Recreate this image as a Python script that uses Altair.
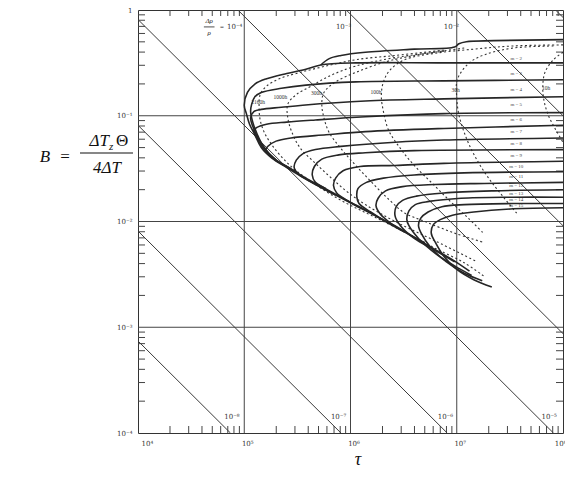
import math
import altair as alt
import pandas as pd

# ---- values (log10 of tau, log10 of B) ----
# diagonal lines of constant delta-rho/rho (exponent), end points
diag_exp = [-8, -7, -6, -5, -4, -3, -2, -1]
diag_lt0 = [4.0, 4.0, 4.0, 4.0, 4.94, 5.96, 7.0, 7.93]
diag_lb0 = [-3.13, -2.09, -1.09, -0.09, 0.0, 0.0, 0.0, 0.0]
diag_lt1 = [4.87, 5.91, 6.91, 7.91, 8.0, 8.0, 8.0, 8.0]
diag_lb1 = [-4.0, -4.0, -4.0, -4.0, -3.06, -2.04, -1.0, -0.07]

# solid curves m = 1 ... 15
m1_lt = [5.72, 5.80, 5.91, 6.14, 6.60, 6.98, 7.02, 7.09, 7.35, 8.0]
m1_lb = [-0.52, -0.46, -0.43, -0.40, -0.37, -0.35, -0.32, -0.30, -0.29, -0.28]
m2_lt = [7.12, 7.02, 6.84, 6.65, 6.47, 6.28, 6.07, 5.86, 5.67, 5.53, 5.40, 5.26, 5.16,
         5.10, 5.05, 5.02, 5.00, 5.03, 5.10, 5.21, 5.40, 5.58, 5.72, 6.05, 6.88, 8.0]
m2_lb = [-2.47, -2.40, -2.29, -2.18, -2.07, -1.97, -1.86, -1.75, -1.65, -1.57, -1.49, -1.40, -1.30,
         -1.18, -1.08, -0.98, -0.90, -0.78, -0.70, -0.65, -0.60, -0.56, -0.52, -0.50, -0.50, -0.50]
m3_lt = [5.49, 5.30, 5.18, 5.12, 5.08, 5.06, 5.07, 5.10, 5.16, 5.35, 5.58, 6.05, 6.88, 8.0]
m3_lb = [-1.53, -1.42, -1.29, -1.17, -1.06, -0.96, -0.89, -0.82, -0.78, -0.74, -0.71, -0.68, -0.67, -0.66]
m4_lt = [5.30, 5.21, 5.13, 5.08, 5.06, 5.09, 5.16, 5.35, 5.55, 6.14, 6.88, 8.0]
m4_lb = [-1.42, -1.33, -1.21, -1.10, -1.02, -0.96, -0.94, -0.92, -0.90, -0.86, -0.84, -0.82]
m5_lt = [5.44, 5.28, 5.18, 5.12, 5.09, 5.12, 5.21, 5.40, 5.67, 6.14, 6.88, 8.0]
m5_lb = [-1.50, -1.41, -1.31, -1.21, -1.14, -1.11, -1.08, -1.06, -1.04, -1.01, -0.98, -0.97]
m6_lt = [5.77, 5.58, 5.42, 5.30, 5.24, 5.20, 5.22, 5.30, 5.44, 5.77, 6.14, 6.88, 8.0]
m6_lb = [-1.69, -1.59, -1.49, -1.42, -1.37, -1.33, -1.29, -1.24, -1.21, -1.18, -1.15, -1.12, -1.09]
m7_lt = [5.86, 5.66, 5.52, 5.47, 5.49, 5.55, 5.67, 5.91, 6.42, 6.88, 8.0]
m7_lb = [-1.75, -1.64, -1.56, -1.49, -1.42, -1.36, -1.32, -1.29, -1.25, -1.23, -1.21]
m8_lt = [6.09, 5.91, 5.75, 5.67, 5.64, 5.66, 5.73, 5.89, 6.14, 6.60, 8.0]
m8_lb = [-1.87, -1.77, -1.68, -1.63, -1.56, -1.48, -1.41, -1.37, -1.35, -1.33, -1.32]
m9_lt = [6.33, 6.14, 5.97, 5.87, 5.84, 5.86, 5.93, 6.09, 6.42, 6.88, 8.0]
m9_lb = [-2.00, -1.89, -1.80, -1.73, -1.66, -1.59, -1.52, -1.48, -1.47, -1.45, -1.43]
m10_lt = [6.51, 6.33, 6.19, 6.08, 6.06, 6.07, 6.15, 6.31, 6.60, 7.07, 8.0]
m10_lb = [-2.10, -2.00, -1.91, -1.83, -1.77, -1.69, -1.63, -1.59, -1.56, -1.54, -1.53]
m11_lt = [6.70, 6.51, 6.37, 6.28, 6.24, 6.26, 6.33, 6.49, 6.79, 7.26, 8.0]
m11_lb = [-2.20, -2.10, -2.01, -1.93, -1.85, -1.78, -1.71, -1.67, -1.65, -1.64, -1.63]
m12_lt = [6.98, 6.79, 6.60, 6.47, 6.42, 6.43, 6.49, 6.62, 6.88, 7.35, 8.0]
m12_lb = [-2.38, -2.27, -2.16, -2.04, -1.95, -1.86, -1.80, -1.76, -1.73, -1.71, -1.70]
m13_lt = [7.14, 6.98, 6.81, 6.64, 6.55, 6.53, 6.55, 6.61, 6.74, 7.04, 7.53, 8.0]
m13_lb = [-2.51, -2.42, -2.31, -2.16, -2.04, -1.98, -1.90, -1.84, -1.81, -1.78, -1.77, -1.77]
m14_lt = [7.24, 7.07, 6.90, 6.75, 6.67, 6.64, 6.66, 6.73, 6.86, 7.07, 7.53, 8.0]
m14_lb = [-2.56, -2.49, -2.38, -2.24, -2.12, -2.04, -1.97, -1.91, -1.86, -1.84, -1.83, -1.83]
m15_lt = [7.33, 7.16, 7.01, 6.88, 6.80, 6.76, 6.78, 6.85, 6.96, 7.16, 7.53, 8.0]
m15_lb = [-2.62, -2.55, -2.46, -2.33, -2.20, -2.11, -2.03, -1.98, -1.94, -1.91, -1.88, -1.87]

# dotted time contours
c1_lt = [6.88, 6.42, 6.05, 5.77, 5.49, 5.33, 5.21, 5.15, 5.14, 5.15, 5.19, 5.27, 5.38, 5.49,
         5.67, 5.91, 6.19, 6.51, 6.79, 7.07, 7.26]
c1_lb = [-0.38, -0.43, -0.47, -0.53, -0.60, -0.65, -0.72, -0.80, -0.93, -1.04, -1.16, -1.29, -1.42, -1.52,
         -1.65, -1.80, -1.94, -2.10, -2.25, -2.39, -2.52]
c2_lt = [6.88, 6.42, 6.05, 5.81, 5.63, 5.49, 5.41, 5.41, 5.45, 5.53, 5.66, 5.81, 5.97, 6.14, 6.42, 6.79, 7.19]
c2_lb = [-0.39, -0.45, -0.53, -0.62, -0.72, -0.80, -0.89, -1.02, -1.16, -1.31, -1.44, -1.58, -1.72, -1.84, -2.00, -2.18, -2.38]
c3_lt = [7.07, 6.60, 6.33, 6.05, 5.86, 5.75, 5.73, 5.75, 5.80, 5.91, 6.05, 6.21, 6.37, 6.51, 6.70, 6.98, 7.26]
c3_lb = [-0.36, -0.43, -0.49, -0.59, -0.68, -0.78, -0.89, -1.02, -1.16, -1.31, -1.47, -1.64, -1.80, -1.92, -2.00, -2.11, -2.20]
c4_lt = [8.0, 7.53, 7.16, 6.79, 6.51, 6.37, 6.31, 6.29, 6.31, 6.36, 6.47, 6.60, 6.77, 6.94, 7.11, 7.26]
c4_lb = [-0.33, -0.34, -0.37, -0.41, -0.47, -0.57, -0.68, -0.81, -0.96, -1.14, -1.31, -1.47, -1.64, -1.81, -1.97, -2.12]
c5_lt = [7.91, 7.53, 7.27, 7.13, 7.04, 7.00, 7.00, 7.02, 7.09, 7.18, 7.30, 7.44, 7.58]
c5_lb = [-0.34, -0.36, -0.42, -0.49, -0.59, -0.68, -0.83, -0.99, -1.21, -1.40, -1.59, -1.77, -1.94]
c6_lt = [8.0, 7.91, 7.83, 7.81, 7.82, 7.86, 7.93, 8.0]
c6_lb = [-0.40, -0.47, -0.59, -0.72, -0.85, -0.99, -1.13, -1.25]

contour_names = ["2160h", "1000h", "300h", "100h", "30h", "10h"]
contour_lab_lt = [5.13, 5.34, 5.68, 6.24, 6.99, 7.84]
contour_lab_lb = [-0.87, -0.82, -0.785, -0.775, -0.757, -0.74]

m_lab = [f"m = {k}" for k in range(2, 16)]
m_lab_lt = [7.56] * 14
m_lab_lb = [-0.454, -0.596, -0.747, -0.889, -1.031, -1.144, -1.258, -1.371,
            -1.475, -1.570, -1.655, -1.730, -1.787, -1.844]

diag_lab = ["10⁻⁴", "10⁻³", "10⁻²", "10⁻⁸", "10⁻⁷", "10⁻⁶", "10⁻⁵"]
diag_lab_lt = [4.91, 5.935, 6.95, 4.884, 5.888, 6.893, 7.87]
diag_lab_lb = [-0.16, -0.16, -0.16, -3.85, -3.85, -3.85, -3.85]

x_decades = [5, 6, 7]
y_decades = [-1, -2, -3]

# ---- tables ----
m_lists = [(m1_lt, m1_lb), (m2_lt, m2_lb), (m3_lt, m3_lb), (m4_lt, m4_lb), (m5_lt, m5_lb),
           (m6_lt, m6_lb), (m7_lt, m7_lb), (m8_lt, m8_lb), (m9_lt, m9_lb), (m10_lt, m10_lb),
           (m11_lt, m11_lb), (m12_lt, m12_lb), (m13_lt, m13_lb), (m14_lt, m14_lb), (m15_lt, m15_lb)]
rows = []
for i, (a, b) in enumerate(m_lists):
    for j, (p, q) in enumerate(zip(a, b)):
        rows.append({"curve": f"m{i+1}", "o": j, "lt": p, "lb": q})
curves = pd.DataFrame(rows)

c_lists = [(c1_lt, c1_lb), (c2_lt, c2_lb), (c3_lt, c3_lb), (c4_lt, c4_lb), (c5_lt, c5_lb), (c6_lt, c6_lb)]
rows = []
for i, (a, b) in enumerate(c_lists):
    for j, (p, q) in enumerate(zip(a, b)):
        rows.append({"curve": contour_names[i], "o": j, "lt": p, "lb": q})
contours = pd.DataFrame(rows)

rows = []
for e, a0, b0, a1, b1 in zip(diag_exp, diag_lt0, diag_lb0, diag_lt1, diag_lb1):
    rows.append({"line": e, "o": 0, "lt": a0, "lb": b0})
    rows.append({"line": e, "o": 1, "lt": a1, "lb": b1})
diags = pd.DataFrame(rows)

xminor = pd.DataFrame({"lt": [n + math.log10(k) for n in range(4, 8) for k in range(2, 10)]})
yminor = pd.DataFrame({"lb": [n + math.log10(k) for n in range(-4, 0) for k in range(2, 10)]})

W, H = 425, 423
INK = "#262626"
SERIF = "Liberation Serif"

xs = alt.Scale(domain=[4, 8], nice=False, zero=False)
ys = alt.Scale(domain=[-4, 0], nice=False, zero=False)
xaxis = alt.Axis(values=[4, 5, 6, 7, 8], title=None, ticks=False, domain=False, grid=False,
                 labelExpr="'10' + ['⁴','⁵','⁶','⁷','⁸'][datum.value - 4]",
                 labelFontSize=7, labelColor="#333", labelFont="DejaVu Serif",
                 labelPadding=6, labelOffset=3)
yaxis = alt.Axis(values=[0, -1, -2, -3, -4], title=None, ticks=False, domain=False, grid=False,
                 labelExpr="datum.value == 0 ? '1' : '10⁻' + ['','¹','²','³','⁴'][-datum.value]",
                 labelFontSize=7, labelColor="#333", labelFont="DejaVu Serif", labelPadding=6)
X = alt.X("lt:Q", scale=xs, axis=xaxis)
Y = alt.Y("lb:Q", scale=ys, axis=yaxis)

grid_x = alt.Chart(pd.DataFrame({"lt": x_decades})).mark_rule(color="#444", strokeWidth=1).encode(x=X)
grid_y = alt.Chart(pd.DataFrame({"lb": y_decades})).mark_rule(color="#444", strokeWidth=1).encode(y=Y)

tick_b = alt.Chart(xminor).mark_rule(color="#444").encode(x=X, y=alt.value(H), y2=alt.value(H - 7))
tick_t = alt.Chart(xminor).mark_rule(color="#444").encode(x=X, y=alt.value(0), y2=alt.value(6))
tick_l = alt.Chart(yminor).mark_rule(color="#444").encode(y=Y, x=alt.value(0), x2=alt.value(7))
tick_r = alt.Chart(yminor).mark_rule(color="#444").encode(y=Y, x=alt.value(W), x2=alt.value(W - 7))

diag = alt.Chart(diags).mark_line(color="#3a3a3a", strokeWidth=1, clip=True).encode(
    x=X, y=Y, detail="line:N", order="o:Q")

dotted = alt.Chart(contours).mark_line(color="#333", strokeWidth=1.1, strokeDash=[2, 2.5],
                                       interpolate="catmull-rom", clip=True).encode(
    x=X, y=Y, detail="curve:N", order="o:Q")

solid = alt.Chart(curves).mark_line(color=INK, strokeWidth=1.6, interpolate="catmull-rom",
                                    clip=True).encode(x=X, y=Y, detail="curve:N", order="o:Q")

clab = alt.Chart(pd.DataFrame({"t": contour_names, "lt": contour_lab_lt, "lb": contour_lab_lb})).mark_text(
    fontSize=5.5, font=SERIF, color="#333").encode(x=X, y=Y, text="t:N")
mlab = alt.Chart(pd.DataFrame({"t": m_lab, "lt": m_lab_lt, "lb": m_lab_lb})).mark_text(
    fontSize=5, font=SERIF, color="#444").encode(x=X, y=Y, text="t:N")
dlab = alt.Chart(pd.DataFrame({"t": diag_lab, "lt": diag_lab_lt, "lb": diag_lab_lb})).mark_text(
    fontSize=7, font="DejaVu Serif", color="#333").encode(x=X, y=Y, text="t:N")

# delta-rho / rho fraction label at top
frac_df = pd.DataFrame({"t": ["Δρ", "ρ", "="], "lt": [4.67, 4.67, 4.79], "lb": [-0.10, -0.22, -0.16]})
frac_txt = alt.Chart(frac_df).mark_text(fontSize=7, font=SERIF, fontStyle="italic", color="#222").encode(
    x=X, y=Y, text="t:N")
frac_bar = alt.Chart(pd.DataFrame({"lt": [4.62], "lt2": [4.72], "lb": [-0.16]})).mark_rule(
    color="#222", strokeWidth=0.8).encode(x=X, x2="lt2:Q", y=Y)

# y title: B = dT_z Theta / 4 dT
def ttl(text, x, y, size=17, align="center", style="italic"):
    return alt.Chart(pd.DataFrame({"t": [text]})).mark_text(
        fontSize=size, font=SERIF, fontStyle=style, align=align, baseline="middle", color="#111"
    ).encode(x=alt.value(x), y=alt.value(y), text="t:N")

t_B = ttl("B", -93, 147)
t_eq = ttl("=", -73, 147, style="normal")
t_num1 = ttl("ΔT", -29, 131, align="right")
t_sub = ttl("z", -29, 137, size=11, align="left")
t_num2 = ttl("Θ", -22, 131, align="left", style="normal")
t_den = ttl("4ΔT", -31, 158)
t_bar = alt.Chart(pd.DataFrame({"a": [0]})).mark_rule(color="#111", strokeWidth=1.1).encode(
    x=alt.value(-58), x2=alt.value(-5), y=alt.value(143))
t_tau = ttl("τ", 220, 450, size=18)

chart = alt.layer(
    grid_x, grid_y, tick_b, tick_t, tick_l, tick_r, diag, dotted, solid,
    clab, mlab, dlab, frac_txt, frac_bar,
    t_B, t_eq, t_num1, t_sub, t_num2, t_den, t_bar, t_tau,
).properties(
    width=W, height=H,
    padding={"left": 130, "top": 2, "right": 2, "bottom": 36},
    autosize=alt.AutoSizeParams(type="none"),
    background="white",
).configure_view(stroke="#333", strokeWidth=1)

chart.save("out.html", embed_options={"renderer": "svg", "actions": False})
